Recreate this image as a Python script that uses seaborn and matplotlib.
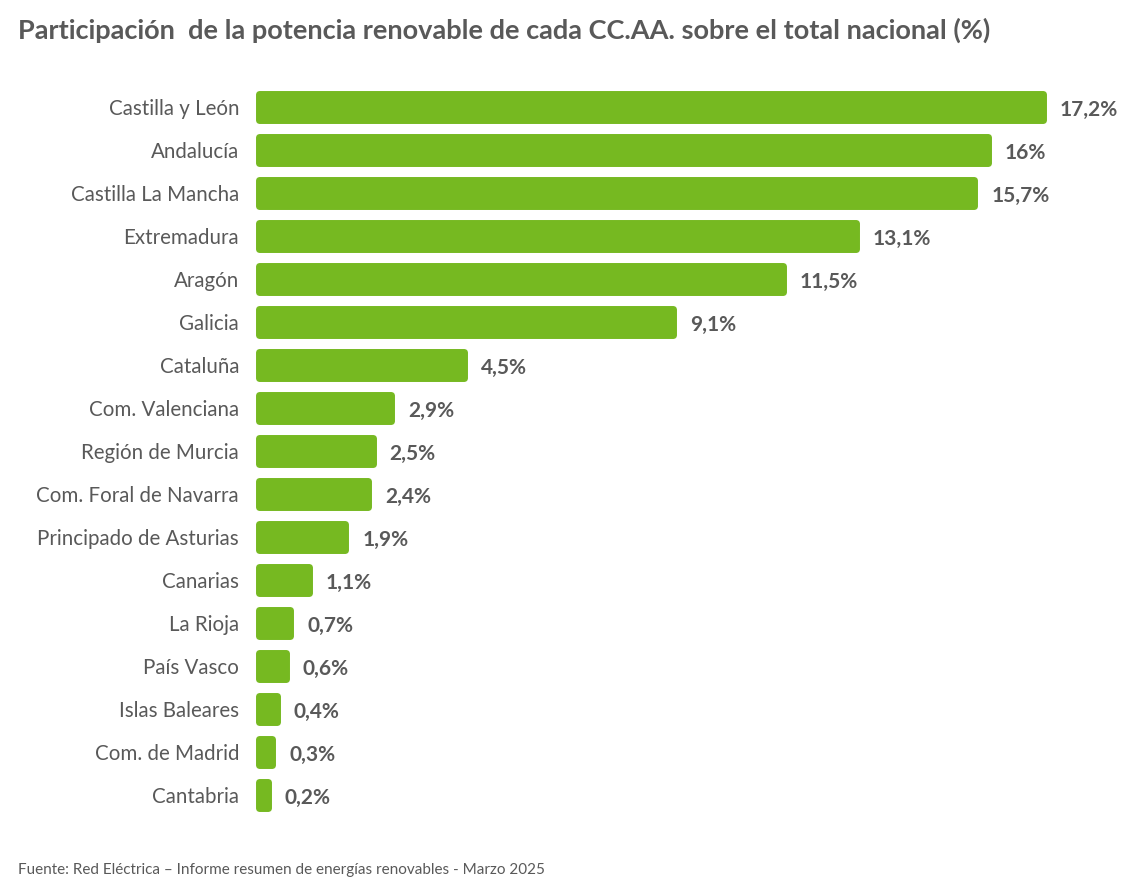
import matplotlib
matplotlib.use("Agg")
import matplotlib.pyplot as plt
import seaborn as sns
import pandas as pd

regions = ["Castilla y León", "Andalucía", "Castilla La Mancha", "Extremadura", "Aragón",
           "Galicia", "Cataluña", "Com. Valenciana", "Región de Murcia",
           "Com. Foral de Navarra", "Principado de Asturias", "Canarias", "La Rioja",
           "País Vasco", "Islas Baleares", "Com. de Madrid", "Cantabria"]
shares = [17.2, 16.0, 15.7, 13.1, 11.5, 9.1, 4.5, 2.9, 2.5, 2.4, 1.9, 1.1, 0.7, 0.6, 0.4, 0.3, 0.2]
labels = ["17,2%", "16%", "15,7%", "13,1%", "11,5%", "9,1%", "4,5%", "2,9%", "2,5%", "2,4%",
          "1,9%", "1,1%", "0,7%", "0,6%", "0,4%", "0,3%", "0,2%"]

df = pd.DataFrame({"region": regions, "share": shares})

sns.set_theme(style="white")
plt.rcParams["font.family"] = ["Lato", "DejaVu Sans"]

GREEN = "#76B921"
GRAY = "#595959"

fig = plt.figure(figsize=(11.34, 8.9), dpi=100)
ax = fig.add_axes([0.228, 0.0826, 0.745, 0.8214])

sns.barplot(data=df, x="share", y="region", color=GREEN, width=0.6, saturation=1, ax=ax)
for p in ax.patches:
    p.set_edgecolor(GREEN)
    p.set_linewidth(5)
    p.set_joinstyle("round")
    p.set_clip_on(False)

ax.set_xlim(0, 18.53)
ax.set_ylim(16.5, -0.5)
for i, (v, lab) in enumerate(zip(shares, labels)):
    ax.annotate(lab, (v, i), xytext=(17, -3), textcoords="offset pixels",
                ha="left", va="center", fontsize=15, fontweight="bold", color=GRAY)

ax.set_xlabel("")
ax.set_ylabel("")
ax.set_xticks([])
ax.tick_params(axis="y", length=0, pad=14, labelsize=14.8, labelcolor=GRAY)
for s in ax.spines.values():
    s.set_visible(False)

fig.text(0.016, 0.966, "Participación  de la potencia renovable de cada CC.AA. sobre el total nacional (%)",
         fontsize=19.5, fontweight="bold", color=GRAY, ha="left", va="center")
fig.text(0.016, 0.022, "Fuente: Red Eléctrica – Informe resumen de energías renovables - Marzo 2025",
         fontsize=11, color=GRAY, ha="left", va="center")

fig.savefig("out.png", dpi=100, facecolor="white")
